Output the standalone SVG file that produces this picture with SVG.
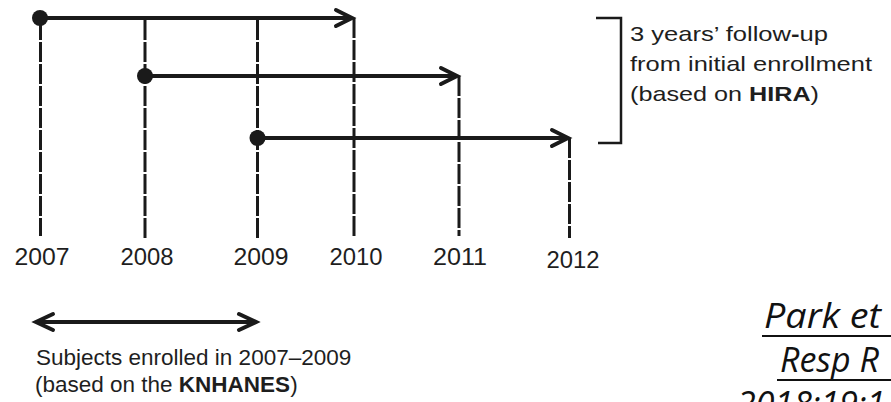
<svg xmlns="http://www.w3.org/2000/svg" width="891" height="402" viewBox="0 0 891 402">
  <defs>
    <style>
      .txt { font-family: "Liberation Sans", Arial, sans-serif; fill: #1e1e1e; }
      .yr { font-size: 23px; text-anchor: middle; }
      .lbl { font-size: 21px; }
      .sub { font-size: 22.5px; }
      .cite { font-family: "Open Sans", "Noto Sans CJK KR", sans-serif; font-style: italic; font-size: 34px; fill: #111; }
      .vdash { stroke: #1a1a1a; stroke-width: 3; stroke-dasharray: 20 2; fill: none; }
      .hline { stroke: #1a1a1a; stroke-width: 4; fill: none; }
      .head { stroke: #1a1a1a; stroke-width: 4; fill: none; stroke-linecap: round; stroke-linejoin: miter; }
      .brk { stroke: #1a1a1a; stroke-width: 2.5; fill: none; }
      .uline { stroke: #111; stroke-width: 2; }
    </style>
  </defs>
  <rect width="891" height="402" fill="#ffffff"/>

  <g id="connectors">
    <line class="vdash" x1="40.5" y1="20" x2="40.5" y2="236"/>
    <line class="vdash" x1="145" y1="20" x2="145" y2="238"/>
    <line class="vdash" x1="257.5" y1="20" x2="257.5" y2="238"/>
    <line class="vdash" x1="354" y1="18" x2="354" y2="236"/>
    <line class="vdash" x1="459" y1="76" x2="459" y2="236"/>
    <line class="vdash" x1="569.5" y1="138" x2="569.5" y2="238"/>
  </g>

  <g id="follow-up-2007">
    <circle cx="40" cy="18" r="8" fill="#1a1a1a"/>
    <line class="hline" x1="40" y1="18" x2="351" y2="18"/>
    <polyline class="head" points="336,10 352,18 336,26"/>
  </g>
  <g id="follow-up-2008">
    <circle cx="145" cy="76" r="8" fill="#1a1a1a"/>
    <line class="hline" x1="145" y1="76" x2="456" y2="76"/>
    <polyline class="head" points="441,68 457,76 441,84"/>
  </g>
  <g id="follow-up-2009">
    <circle cx="257.5" cy="138" r="8" fill="#1a1a1a"/>
    <line class="hline" x1="257" y1="138" x2="567" y2="138"/>
    <polyline class="head" points="552,130 568,138 552,146"/>
  </g>

  <g id="years">
    <text class="txt yr" x="42" y="265" textLength="55" lengthAdjust="spacingAndGlyphs">2007</text>
    <text class="txt yr" x="147" y="265" textLength="53" lengthAdjust="spacingAndGlyphs">2008</text>
    <text class="txt yr" x="261" y="265" textLength="55" lengthAdjust="spacingAndGlyphs">2009</text>
    <text class="txt yr" x="356" y="265" textLength="53" lengthAdjust="spacingAndGlyphs">2010</text>
    <text class="txt yr" x="460" y="265" textLength="54" lengthAdjust="spacingAndGlyphs">2011</text>
    <text class="txt yr" x="573" y="268" textLength="53" lengthAdjust="spacingAndGlyphs">2012</text>
  </g>

  <g id="hira-bracket">
    <polyline class="brk" points="596,18 621,18 621,143 598,143"/>
    <text class="txt lbl" x="630" y="41" textLength="198" lengthAdjust="spacingAndGlyphs">3 years’ follow<tspan font-weight="bold">-</tspan>up</text>
    <text class="txt lbl" x="630" y="71" textLength="242" lengthAdjust="spacingAndGlyphs">from initial enrollment</text>
    <text class="txt lbl" x="630" y="101" textLength="189" lengthAdjust="spacingAndGlyphs">(based on <tspan font-weight="bold">HIRA</tspan>)</text>
  </g>

  <g id="knhanes-range">
    <line class="hline" x1="37" y1="322" x2="255" y2="322"/>
    <polyline class="head" points="53,314 36,322 53,330"/>
    <polyline class="head" points="239,314 256,322 239,330"/>
    <text class="txt sub" x="36" y="365">Subjects enrolled in 2007–2009</text>
    <text class="txt sub" x="35" y="392">(based on the <tspan font-weight="bold">KNHANES</tspan>)</text>
  </g>

  <g id="citation">
    <text class="cite" x="764" y="328" textLength="117" lengthAdjust="spacingAndGlyphs">Park et</text>
    <line class="uline" x1="762" y1="336" x2="891" y2="336"/>
    <text class="cite" x="780" y="372">Resp R</text>
    <line class="uline" x1="777" y1="380" x2="891" y2="380"/>
    <text class="cite" x="737" y="416">2018;19:1</text>
  </g>
</svg>
